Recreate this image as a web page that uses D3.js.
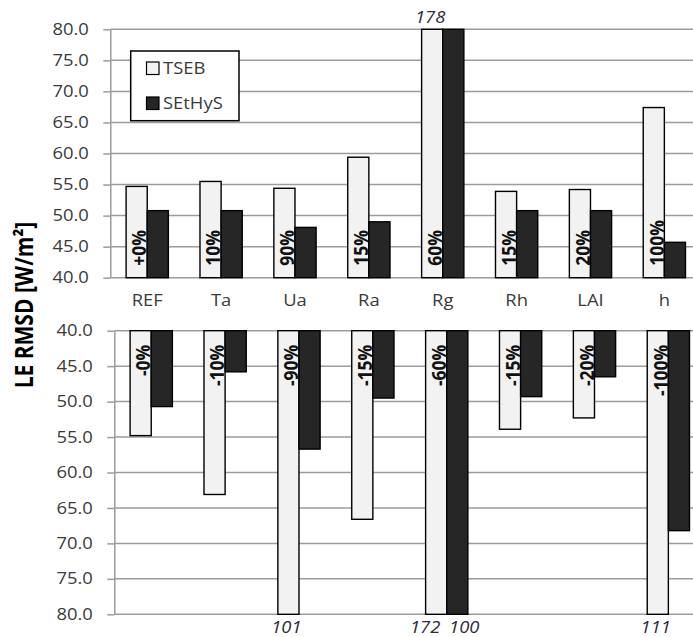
<!DOCTYPE html>
<html>
<head>
<meta charset="utf-8">
<script src="https://cdn.jsdelivr.net/npm/d3@7"></script>
<style>
  html, body { margin: 0; padding: 0; background: #fff; }
  svg { display: block; font-family: "Open Sans", "Noto Sans", sans-serif; }
</style>
</head>
<body>
<svg id="chart" width="693" height="637"></svg>
<script>
// ---------- data ----------
const categories = ["REF", "Ta", "Ua", "Ra", "Rg", "Rh", "LAI", "h"];
const seriesNames = ["TSEB", "SEtHyS"];
// upper panel: positive perturbation
const tsebUp    = [54.7, 55.5, 54.4, 59.4, 178, 53.9, 54.2, 67.4];
const sethysUp  = [50.8, 50.8, 48.1, 49.0, 80.0, 50.8, 50.8, 45.7];
const pctUp     = ["+0%", "10%", "90%", "15%", "60%", "15%", "20%", "100%"];
// lower panel: negative perturbation
const tsebDown   = [54.8, 63.1, 101, 66.6, 172, 53.9, 52.3, 111];
const sethysDown = [50.7, 45.8, 56.7, 49.5, 100, 49.3, 46.5, 68.2];
const pctDown    = ["-0%", "-10%", "-90%", "-15%", "-60%", "-15%", "-20%", "-100%"];
const yTicks = [40, 45, 50, 55, 60, 65, 70, 75, 80];
const yTitle = "LE RMSD [W/m²]";

// ---------- style ----------
const SX = 1.15;               // horizontal text stretch of the original image
const gridColor = "#9c9c9c";
const textColor = "#3a3a3a";
const fills = { TSEB: "#f2f2f2", SEtHyS: "#262626" };
const W = 693;

const svg = d3.select("#chart");

function stretchTexts(sel) {
  sel.each(function () {
    const t = d3.select(this);
    const x = +t.attr("x") || 0;
    t.attr("x", x / SX);
    const tr = t.attr("transform") || "";
    t.attr("transform", (tr ? tr + " " : "") + `scale(${SX},1)`);
  });
}

function panel(opts) {
  const { x0, yTop, yBottom, up, tsebVals, sethysVals, pcts, showCats } = opts;
  const x = d3.scaleBand().domain(categories)
    .range([x0, x0 + 591]).paddingInner(0.428).paddingOuter(0.214);
  const xs = d3.scaleBand().domain(seriesNames).range([0, x.bandwidth()]);
  // y: 40 at baseline, 80 at far end
  const y = d3.scaleLinear().domain([40, 80])
    .range(up ? [yBottom, yTop] : [yTop, yBottom]);
  const base = y(40);
  const g = svg.append("g");

  // gridlines
  g.append("g").selectAll("line").data(yTicks).join("line")
    .attr("x1", x0).attr("x2", W + 20)
    .attr("y1", d => y(d)).attr("y2", d => y(d))
    .attr("stroke", gridColor).attr("stroke-width", 1.5);

  // y axis
  const ax = g.append("g").attr("transform", `translate(${x0},0)`)
    .call(d3.axisLeft(y).tickValues(yTicks).tickFormat(d3.format(".1f"))
      .tickSizeInner(7).tickSizeOuter(0).tickPadding(14.5));
  ax.select(".domain").attr("stroke", gridColor).attr("stroke-width", 1.5);
  ax.selectAll(".tick line").attr("stroke", gridColor).attr("stroke-width", 1.5);
  ax.selectAll(".tick text").attr("fill", textColor)
    .style("font-size", "16px").style("font-family", "'Open Sans'");
  stretchTexts(ax.selectAll(".tick text"));

  // bars
  const rows = categories.map((c, i) => ({
    c, i, vals: [{ s: "TSEB", v: tsebVals[i] }, { s: "SEtHyS", v: sethysVals[i] }]
  }));
  const cg = g.append("g").selectAll("g").data(rows).join("g")
    .attr("transform", d => `translate(${x(d.c)},0)`);
  cg.selectAll("rect").data(d => d.vals).join("rect")
    .attr("x", d => xs(d.s))
    .attr("width", xs.bandwidth())
    .attr("y", d => Math.min(base, y(Math.min(d.v, 80))))
    .attr("height", d => Math.abs(y(Math.min(d.v, 80)) - base))
    .attr("fill", d => fills[d.s])
    .attr("stroke", "#000").attr("stroke-width", 1.4);

  // percentage labels on TSEB bars
  g.append("g").selectAll("text").data(rows).join("text")
    .attr("transform", d => {
      const bx = x(d.c) + xs("TSEB") + xs.bandwidth() - 0.8;
      const by = up ? base - 12 : base + 14;
      return `translate(${bx},${by}) scale(${SX},1) rotate(-90)`;
    })
    .attr("text-anchor", up ? "start" : "end")
    .style("font-size", "17.5px").style("font-weight", "bold")
    .attr("fill", "#111")
    .text(d => pcts[d.i]);

  // overflow value labels
  const over = [];
  rows.forEach(d => {
    const both = d.vals.every(v => v.v > 80);
    d.vals.forEach(v => {
      if (v.v > 80) {
        let shift = -2;
        if (both) shift += (v.s === "TSEB" ? -9 : 9);
        over.push({ cx: x(d.c) + xs(v.s) + xs.bandwidth() / 2 + shift, v: v.v });
      }
    });
  });
  g.append("g").selectAll("text").data(over).join("text")
    .attr("transform", d => `translate(${d.cx},${up ? yTop - 6.5 : yBottom + 18.5}) scale(${SX},1)`)
    .attr("text-anchor", "middle")
    .style("font-size", "16px").style("font-style", "italic")
    .attr("fill", "#2b2b3a")
    .text(d => d3.format("d")(d.v));

  // category labels
  if (showCats) {
    const cax = g.append("g").attr("transform", `translate(0,${base})`)
      .call(d3.axisBottom(x).tickSize(0).tickPadding(17.4));
    cax.select(".domain").remove();
    cax.selectAll(".tick text").attr("fill", textColor)
      .style("font-size", "16px").style("font-family", "'Open Sans'");
    stretchTexts(cax.selectAll(".tick text"));
  }
}

panel({ x0: 110.3, yTop: 29.3, yBottom: 277.7, up: true,
  tsebVals: tsebUp, sethysVals: sethysUp, pcts: pctUp, showCats: true });
panel({ x0: 114.3, yTop: 330.7, yBottom: 614.3, up: false,
  tsebVals: tsebDown, sethysVals: sethysDown, pcts: pctDown, showCats: false });

// y title
svg.append("text")
  .attr("transform", `translate(33,305) scale(${SX},1) rotate(-90)`)
  .attr("text-anchor", "middle")
  .style("font-size", "21px").style("font-weight", "bold")
  .attr("fill", "#000")
  .text(yTitle);

// legend
const lg = svg.append("g");
lg.append("rect").attr("x", 130.7).attr("y", 51).attr("width", 108.3).attr("height", 69.7)
  .attr("fill", "#fff").attr("stroke", "#000").attr("stroke-width", 1.5);
const legendRows = seriesNames.map((s, i) => ({ s, i }));
const li = lg.selectAll("g.item").data(legendRows).join("g").attr("class", "item")
  .attr("transform", d => `translate(146.5,${62 + d.i * 35})`);
li.append("rect").attr("x", 0).attr("y", 0).attr("width", 12.5).attr("height", 12.5)
  .attr("fill", d => fills[d.s]).attr("stroke", "#000").attr("stroke-width", 1.2);
li.append("text")
  .attr("transform", `translate(16.5,11.8) scale(${SX},1)`)
  .style("font-size", "16px").attr("fill", textColor)
  .text(d => d.s);
</script>
</body>
</html>
